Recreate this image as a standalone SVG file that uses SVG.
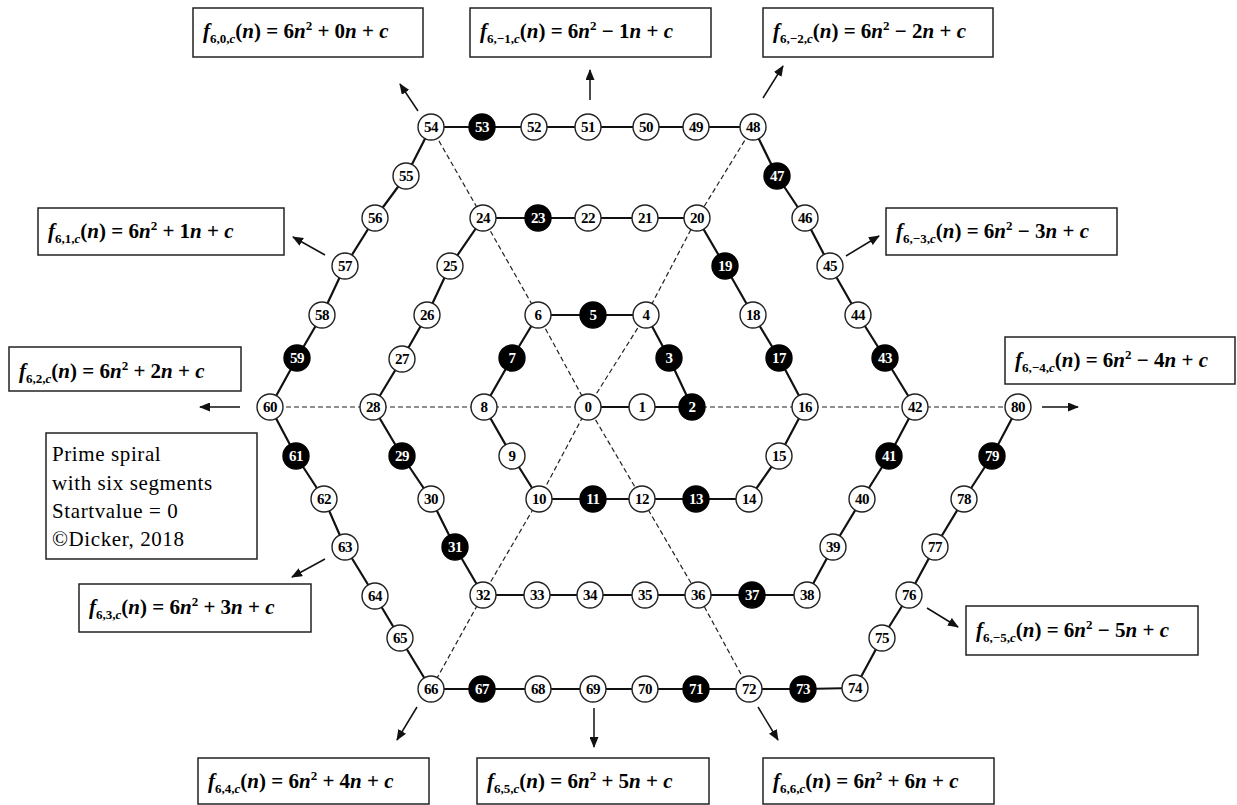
<svg xmlns="http://www.w3.org/2000/svg" width="1237" height="805" viewBox="0 0 1237 805">
<style>
.bg{fill:#fff}
.sp{fill:none;stroke:#111;stroke-width:2.2;stroke-linejoin:round}
.ds{fill:none;stroke:#222;stroke-width:1.2;stroke-dasharray:5 3}
.ar{stroke:#111;stroke-width:1.5;marker-end:url(#ah)}
.w circle{fill:#fff;stroke:#222;stroke-width:1.4}
.b circle{fill:#000;stroke:#000;stroke-width:1.4}
.w text,.b text{font-family:"Liberation Serif","Times New Roman",serif;font-weight:bold;font-size:15px;letter-spacing:-0.4px;text-anchor:middle}
.w text{fill:#000}
.b text{fill:#fff}
.box{fill:#fff;stroke:#222;stroke-width:1.5}
.fm{font-family:"Liberation Serif","Times New Roman",serif;font-weight:bold;font-size:21px;fill:#000}
.i{font-style:italic}
.sb{font-size:13px}
.su{font-size:13px}
.nt{font-family:"Liberation Serif","Times New Roman",serif;font-size:21px;letter-spacing:0.6px;fill:#000}
</style>
<defs>
<marker id="ah" markerUnits="userSpaceOnUse" markerWidth="11" markerHeight="9" refX="10" refY="4.5" orient="auto">
<path d="M0,0 L11,4.5 L0,9 z" fill="#111"/>
</marker>
</defs>
<rect class="bg" width="1237" height="805"/>

<g id="connectors">
<polyline class="ds" points="270,407 1018,407"/>
<polyline class="ds" points="431,127 483,218 538,315 588,407 642,499 698,595 749,689"/>
<polyline class="ds" points="753,127 697,218 646,315 588,407 539,499 483,595 431,689"/>
<polyline class="sp" points="588,407 642,407 692,407 669,358 646,315 593,315 538,315 512,358 484,407 512,456 539,499 593,499 642,499 696,499 749,499 779,456 805,407 779,358 753,315 725,266 697,218 645,218 588,218 538,218 483,218 450,266 427,315 402,359 373,407 402,456 431,499 455,547 483,595 537,595 590,595 645,595 698,595 752,595 807,595 833,547 862,499 889,456 915,407 885,358 858,315 830,266 805,218 777,176 753,127 696,127 646,127 588,127 534,127 482,127 431,127 406,176 375,218 345,266 322,315 297,358 270,407 296,456 324,499 345,547 375,596 400,638 431,689 482,689 538,689 593,689 645,689 696,689 749,689 803,689 855,688 882,638 909,595 935,547 964,499 992,456 1018,407"/>
<line class="ar" x1="418" y1="111" x2="400" y2="84"/>
<line class="ar" x1="590" y1="100" x2="590" y2="70"/>
<line class="ar" x1="763" y1="98" x2="783" y2="66"/>
<line class="ar" x1="325" y1="255" x2="293" y2="237"/>
<line class="ar" x1="846" y1="256" x2="879" y2="236"/>
<line class="ar" x1="240" y1="407" x2="200" y2="407"/>
<line class="ar" x1="1042" y1="407" x2="1078" y2="407"/>
<line class="ar" x1="325" y1="559" x2="292" y2="577"/>
<line class="ar" x1="927" y1="608" x2="958" y2="627"/>
<line class="ar" x1="417" y1="707" x2="397" y2="740"/>
<line class="ar" x1="594" y1="708" x2="594" y2="747"/>
<line class="ar" x1="758" y1="707" x2="778" y2="740"/>
</g>

<g id="nodes">
<g id="n0" class="w"><circle cx="588" cy="407" r="13"/><text x="588" y="412">0</text></g>
<g id="n1" class="w"><circle cx="642" cy="407" r="13"/><text x="642" y="412">1</text></g>
<g id="n2" class="b"><circle cx="692" cy="407" r="13"/><text x="692" y="412">2</text></g>
<g id="n3" class="b"><circle cx="669" cy="358" r="13"/><text x="669" y="363">3</text></g>
<g id="n4" class="w"><circle cx="646" cy="315" r="13"/><text x="646" y="320">4</text></g>
<g id="n5" class="b"><circle cx="593" cy="315" r="13"/><text x="593" y="320">5</text></g>
<g id="n6" class="w"><circle cx="538" cy="315" r="13"/><text x="538" y="320">6</text></g>
<g id="n7" class="b"><circle cx="512" cy="358" r="13"/><text x="512" y="363">7</text></g>
<g id="n8" class="w"><circle cx="484" cy="407" r="13"/><text x="484" y="412">8</text></g>
<g id="n9" class="w"><circle cx="512" cy="456" r="13"/><text x="512" y="461">9</text></g>
<g id="n10" class="w"><circle cx="539" cy="499" r="13"/><text x="539" y="504">10</text></g>
<g id="n11" class="b"><circle cx="593" cy="499" r="13"/><text x="593" y="504">11</text></g>
<g id="n12" class="w"><circle cx="642" cy="499" r="13"/><text x="642" y="504">12</text></g>
<g id="n13" class="b"><circle cx="696" cy="499" r="13"/><text x="696" y="504">13</text></g>
<g id="n14" class="w"><circle cx="749" cy="499" r="13"/><text x="749" y="504">14</text></g>
<g id="n15" class="w"><circle cx="779" cy="456" r="13"/><text x="779" y="461">15</text></g>
<g id="n16" class="w"><circle cx="805" cy="407" r="13"/><text x="805" y="412">16</text></g>
<g id="n17" class="b"><circle cx="779" cy="358" r="13"/><text x="779" y="363">17</text></g>
<g id="n18" class="w"><circle cx="753" cy="315" r="13"/><text x="753" y="320">18</text></g>
<g id="n19" class="b"><circle cx="725" cy="266" r="13"/><text x="725" y="271">19</text></g>
<g id="n20" class="w"><circle cx="697" cy="218" r="13"/><text x="697" y="223">20</text></g>
<g id="n21" class="w"><circle cx="645" cy="218" r="13"/><text x="645" y="223">21</text></g>
<g id="n22" class="w"><circle cx="588" cy="218" r="13"/><text x="588" y="223">22</text></g>
<g id="n23" class="b"><circle cx="538" cy="218" r="13"/><text x="538" y="223">23</text></g>
<g id="n24" class="w"><circle cx="483" cy="218" r="13"/><text x="483" y="223">24</text></g>
<g id="n25" class="w"><circle cx="450" cy="266" r="13"/><text x="450" y="271">25</text></g>
<g id="n26" class="w"><circle cx="427" cy="315" r="13"/><text x="427" y="320">26</text></g>
<g id="n27" class="w"><circle cx="402" cy="359" r="13"/><text x="402" y="364">27</text></g>
<g id="n28" class="w"><circle cx="373" cy="407" r="13"/><text x="373" y="412">28</text></g>
<g id="n29" class="b"><circle cx="402" cy="456" r="13"/><text x="402" y="461">29</text></g>
<g id="n30" class="w"><circle cx="431" cy="499" r="13"/><text x="431" y="504">30</text></g>
<g id="n31" class="b"><circle cx="455" cy="547" r="13"/><text x="455" y="552">31</text></g>
<g id="n32" class="w"><circle cx="483" cy="595" r="13"/><text x="483" y="600">32</text></g>
<g id="n33" class="w"><circle cx="537" cy="595" r="13"/><text x="537" y="600">33</text></g>
<g id="n34" class="w"><circle cx="590" cy="595" r="13"/><text x="590" y="600">34</text></g>
<g id="n35" class="w"><circle cx="645" cy="595" r="13"/><text x="645" y="600">35</text></g>
<g id="n36" class="w"><circle cx="698" cy="595" r="13"/><text x="698" y="600">36</text></g>
<g id="n37" class="b"><circle cx="752" cy="595" r="13"/><text x="752" y="600">37</text></g>
<g id="n38" class="w"><circle cx="807" cy="595" r="13"/><text x="807" y="600">38</text></g>
<g id="n39" class="w"><circle cx="833" cy="547" r="13"/><text x="833" y="552">39</text></g>
<g id="n40" class="w"><circle cx="862" cy="499" r="13"/><text x="862" y="504">40</text></g>
<g id="n41" class="b"><circle cx="889" cy="456" r="13"/><text x="889" y="461">41</text></g>
<g id="n42" class="w"><circle cx="915" cy="407" r="13"/><text x="915" y="412">42</text></g>
<g id="n43" class="b"><circle cx="885" cy="358" r="13"/><text x="885" y="363">43</text></g>
<g id="n44" class="w"><circle cx="858" cy="315" r="13"/><text x="858" y="320">44</text></g>
<g id="n45" class="w"><circle cx="830" cy="266" r="13"/><text x="830" y="271">45</text></g>
<g id="n46" class="w"><circle cx="805" cy="218" r="13"/><text x="805" y="223">46</text></g>
<g id="n47" class="b"><circle cx="777" cy="176" r="13"/><text x="777" y="181">47</text></g>
<g id="n48" class="w"><circle cx="753" cy="127" r="13"/><text x="753" y="132">48</text></g>
<g id="n49" class="w"><circle cx="696" cy="127" r="13"/><text x="696" y="132">49</text></g>
<g id="n50" class="w"><circle cx="646" cy="127" r="13"/><text x="646" y="132">50</text></g>
<g id="n51" class="w"><circle cx="588" cy="127" r="13"/><text x="588" y="132">51</text></g>
<g id="n52" class="w"><circle cx="534" cy="127" r="13"/><text x="534" y="132">52</text></g>
<g id="n53" class="b"><circle cx="482" cy="127" r="13"/><text x="482" y="132">53</text></g>
<g id="n54" class="w"><circle cx="431" cy="127" r="13"/><text x="431" y="132">54</text></g>
<g id="n55" class="w"><circle cx="406" cy="176" r="13"/><text x="406" y="181">55</text></g>
<g id="n56" class="w"><circle cx="375" cy="218" r="13"/><text x="375" y="223">56</text></g>
<g id="n57" class="w"><circle cx="345" cy="266" r="13"/><text x="345" y="271">57</text></g>
<g id="n58" class="w"><circle cx="322" cy="315" r="13"/><text x="322" y="320">58</text></g>
<g id="n59" class="b"><circle cx="297" cy="358" r="13"/><text x="297" y="363">59</text></g>
<g id="n60" class="w"><circle cx="270" cy="407" r="13"/><text x="270" y="412">60</text></g>
<g id="n61" class="b"><circle cx="296" cy="456" r="13"/><text x="296" y="461">61</text></g>
<g id="n62" class="w"><circle cx="324" cy="499" r="13"/><text x="324" y="504">62</text></g>
<g id="n63" class="w"><circle cx="345" cy="547" r="13"/><text x="345" y="552">63</text></g>
<g id="n64" class="w"><circle cx="375" cy="596" r="13"/><text x="375" y="601">64</text></g>
<g id="n65" class="w"><circle cx="400" cy="638" r="13"/><text x="400" y="643">65</text></g>
<g id="n66" class="w"><circle cx="431" cy="689" r="13"/><text x="431" y="694">66</text></g>
<g id="n67" class="b"><circle cx="482" cy="689" r="13"/><text x="482" y="694">67</text></g>
<g id="n68" class="w"><circle cx="538" cy="689" r="13"/><text x="538" y="694">68</text></g>
<g id="n69" class="w"><circle cx="593" cy="689" r="13"/><text x="593" y="694">69</text></g>
<g id="n70" class="w"><circle cx="645" cy="689" r="13"/><text x="645" y="694">70</text></g>
<g id="n71" class="b"><circle cx="696" cy="689" r="13"/><text x="696" y="694">71</text></g>
<g id="n72" class="w"><circle cx="749" cy="689" r="13"/><text x="749" y="694">72</text></g>
<g id="n73" class="b"><circle cx="803" cy="689" r="13"/><text x="803" y="694">73</text></g>
<g id="n74" class="w"><circle cx="855" cy="688" r="13"/><text x="855" y="693">74</text></g>
<g id="n75" class="w"><circle cx="882" cy="638" r="13"/><text x="882" y="643">75</text></g>
<g id="n76" class="w"><circle cx="909" cy="595" r="13"/><text x="909" y="600">76</text></g>
<g id="n77" class="w"><circle cx="935" cy="547" r="13"/><text x="935" y="552">77</text></g>
<g id="n78" class="w"><circle cx="964" cy="499" r="13"/><text x="964" y="504">78</text></g>
<g id="n79" class="b"><circle cx="992" cy="456" r="13"/><text x="992" y="461">79</text></g>
<g id="n80" class="w"><circle cx="1018" cy="407" r="13"/><text x="1018" y="412">80</text></g>
</g>

<g id="labels">
<g id="f60"><rect class="box" x="193" y="8" width="230" height="49"/>
<text class="fm" x="203" y="38"><tspan class="i">f</tspan><tspan class="sb" dy="5">6,0,</tspan><tspan class="sb i">c</tspan><tspan dy="-5">(</tspan><tspan class="i">n</tspan><tspan>) = 6</tspan><tspan class="i">n</tspan><tspan class="su" dy="-8">2</tspan><tspan dy="8"> + 0</tspan><tspan class="i">n</tspan><tspan> + </tspan><tspan class="i">c</tspan></text></g>
<g id="f6m1"><rect class="box" x="470" y="8" width="241" height="49"/>
<text class="fm" x="480" y="38"><tspan class="i">f</tspan><tspan class="sb" dy="5">6,−1,</tspan><tspan class="sb i">c</tspan><tspan dy="-5">(</tspan><tspan class="i">n</tspan><tspan>) = 6</tspan><tspan class="i">n</tspan><tspan class="su" dy="-8">2</tspan><tspan dy="8"> − 1</tspan><tspan class="i">n</tspan><tspan> + </tspan><tspan class="i">c</tspan></text></g>
<g id="f6m2"><rect class="box" x="763" y="8" width="230" height="49"/>
<text class="fm" x="773" y="38"><tspan class="i">f</tspan><tspan class="sb" dy="5">6,−2,</tspan><tspan class="sb i">c</tspan><tspan dy="-5">(</tspan><tspan class="i">n</tspan><tspan>) = 6</tspan><tspan class="i">n</tspan><tspan class="su" dy="-8">2</tspan><tspan dy="8"> − 2</tspan><tspan class="i">n</tspan><tspan> + </tspan><tspan class="i">c</tspan></text></g>
<g id="f61"><rect class="box" x="38" y="208" width="246" height="47"/>
<text class="fm" x="48" y="238"><tspan class="i">f</tspan><tspan class="sb" dy="5">6,1,</tspan><tspan class="sb i">c</tspan><tspan dy="-5">(</tspan><tspan class="i">n</tspan><tspan>) = 6</tspan><tspan class="i">n</tspan><tspan class="su" dy="-8">2</tspan><tspan dy="8"> + 1</tspan><tspan class="i">n</tspan><tspan> + </tspan><tspan class="i">c</tspan></text></g>
<g id="f6m3"><rect class="box" x="886" y="208" width="231" height="47"/>
<text class="fm" x="896" y="238"><tspan class="i">f</tspan><tspan class="sb" dy="5">6,−3,</tspan><tspan class="sb i">c</tspan><tspan dy="-5">(</tspan><tspan class="i">n</tspan><tspan>) = 6</tspan><tspan class="i">n</tspan><tspan class="su" dy="-8">2</tspan><tspan dy="8"> − 3</tspan><tspan class="i">n</tspan><tspan> + </tspan><tspan class="i">c</tspan></text></g>
<g id="f62"><rect class="box" x="9" y="347" width="232" height="44"/>
<text class="fm" x="19" y="378"><tspan class="i">f</tspan><tspan class="sb" dy="5">6,2,</tspan><tspan class="sb i">c</tspan><tspan dy="-5">(</tspan><tspan class="i">n</tspan><tspan>) = 6</tspan><tspan class="i">n</tspan><tspan class="su" dy="-8">2</tspan><tspan dy="8"> + 2</tspan><tspan class="i">n</tspan><tspan> + </tspan><tspan class="i">c</tspan></text></g>
<g id="f6m4"><rect class="box" x="1005" y="337" width="230" height="47"/>
<text class="fm" x="1015" y="367"><tspan class="i">f</tspan><tspan class="sb" dy="5">6,−4,</tspan><tspan class="sb i">c</tspan><tspan dy="-5">(</tspan><tspan class="i">n</tspan><tspan>) = 6</tspan><tspan class="i">n</tspan><tspan class="su" dy="-8">2</tspan><tspan dy="8"> − 4</tspan><tspan class="i">n</tspan><tspan> + </tspan><tspan class="i">c</tspan></text></g>
<g id="note"><rect class="box" x="46" y="433" width="211" height="126"/>
<text class="nt" x="52" y="461">Prime spiral</text>
<text class="nt" x="52" y="490">with six segments</text>
<text class="nt" x="52" y="518">Startvalue = 0</text>
<text class="nt" x="52" y="546">©Dicker, 2018</text></g>
<g id="f63"><rect class="box" x="79" y="584" width="232" height="48"/>
<text class="fm" x="89" y="614"><tspan class="i">f</tspan><tspan class="sb" dy="5">6,3,</tspan><tspan class="sb i">c</tspan><tspan dy="-5">(</tspan><tspan class="i">n</tspan><tspan>) = 6</tspan><tspan class="i">n</tspan><tspan class="su" dy="-8">2</tspan><tspan dy="8"> + 3</tspan><tspan class="i">n</tspan><tspan> + </tspan><tspan class="i">c</tspan></text></g>
<g id="f6m5"><rect class="box" x="966" y="606" width="232" height="49"/>
<text class="fm" x="976" y="637"><tspan class="i">f</tspan><tspan class="sb" dy="5">6,−5,</tspan><tspan class="sb i">c</tspan><tspan dy="-5">(</tspan><tspan class="i">n</tspan><tspan>) = 6</tspan><tspan class="i">n</tspan><tspan class="su" dy="-8">2</tspan><tspan dy="8"> − 5</tspan><tspan class="i">n</tspan><tspan> + </tspan><tspan class="i">c</tspan></text></g>
<g id="f64"><rect class="box" x="198" y="758" width="231" height="46"/>
<text class="fm" x="208" y="788"><tspan class="i">f</tspan><tspan class="sb" dy="5">6,4,</tspan><tspan class="sb i">c</tspan><tspan dy="-5">(</tspan><tspan class="i">n</tspan><tspan>) = 6</tspan><tspan class="i">n</tspan><tspan class="su" dy="-8">2</tspan><tspan dy="8"> + 4</tspan><tspan class="i">n</tspan><tspan> + </tspan><tspan class="i">c</tspan></text></g>
<g id="f65"><rect class="box" x="477" y="758" width="232" height="46"/>
<text class="fm" x="487" y="788"><tspan class="i">f</tspan><tspan class="sb" dy="5">6,5,</tspan><tspan class="sb i">c</tspan><tspan dy="-5">(</tspan><tspan class="i">n</tspan><tspan>) = 6</tspan><tspan class="i">n</tspan><tspan class="su" dy="-8">2</tspan><tspan dy="8"> + 5</tspan><tspan class="i">n</tspan><tspan> + </tspan><tspan class="i">c</tspan></text></g>
<g id="f66"><rect class="box" x="763" y="758" width="231" height="46"/>
<text class="fm" x="773" y="788"><tspan class="i">f</tspan><tspan class="sb" dy="5">6,6,</tspan><tspan class="sb i">c</tspan><tspan dy="-5">(</tspan><tspan class="i">n</tspan><tspan>) = 6</tspan><tspan class="i">n</tspan><tspan class="su" dy="-8">2</tspan><tspan dy="8"> + 6</tspan><tspan class="i">n</tspan><tspan> + </tspan><tspan class="i">c</tspan></text></g>
</g>
</svg>
